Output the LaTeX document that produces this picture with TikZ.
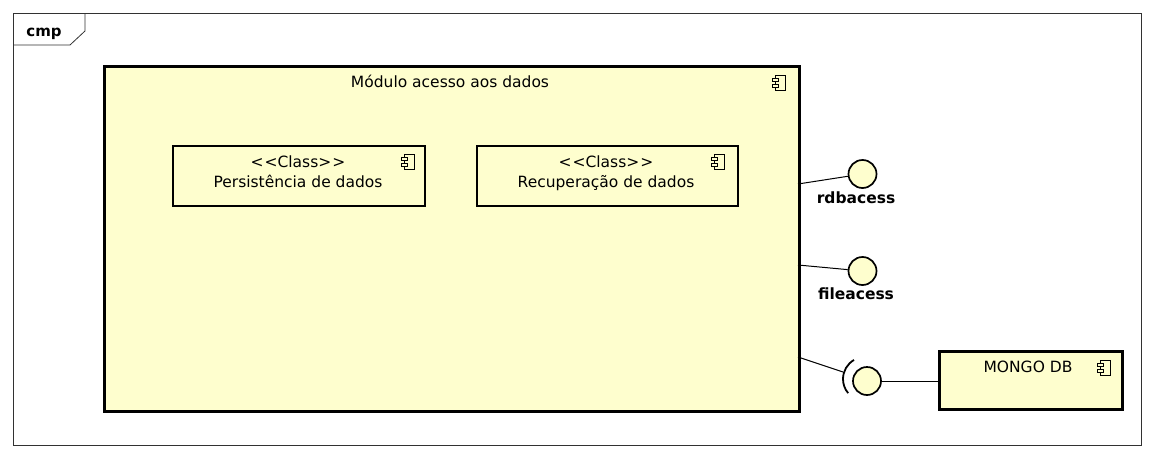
\documentclass[tikz,border=0pt]{standalone}
\usepackage{fontspec}
\setmainfont{DejaVu Sans}
\definecolor{compfill}{RGB}{254,254,206}
\definecolor{framecol}{RGB}{50,50,50}
\begin{document}
\begin{tikzpicture}[x={(1pt,0)},y={(0,-1pt)},
  txt/.style={font=\fontsize{15.5}{20}\selectfont, inner sep=0pt},
  lbl/.style={font=\bfseries\fontsize{15.5}{20}\selectfont, inner sep=0pt},
  comp/.style={draw=black, fill=compfill, line width=2.6pt, inner sep=0pt},
  iface/.style={circle, draw=black, fill=compfill, line width=1.7pt, minimum size=28pt, inner sep=0pt},
  conn/.style={draw=black, line width=1pt},
  compicon/.pic={
    \draw[line width=0.8pt, fill=compfill] (-4,-7.5) rectangle (6,7.5);
    \draw[line width=0.8pt, fill=compfill] (-7,-4.5) rectangle (-1,-1.5);
    \draw[line width=0.8pt, fill=compfill] (-7,1.5) rectangle (-1,4.5);
  }]
\useasboundingbox (0,0) rectangle (1154,458);
\fill[white] (0,0) rectangle (1154,458);
% frame
\node[draw=framecol, line width=0.8pt, minimum width=1128pt, minimum height=432pt, inner sep=0pt, anchor=north west] (frame) at (13,13) {};
\draw[framecol, line width=0.8pt] (13,45) -- (70,45) -- (85,31) -- (85,13);
\node[lbl, font=\bfseries\fontsize{15}{18}\selectfont, anchor=base] (cmp) at (44,36) {cmp};
% main component
\node[comp, minimum width=695pt, minimum height=345pt, anchor=north west] (main) at (103,65) {};
\node[txt, anchor=base] (maint) at (450,87) {Módulo acesso aos dados};
\pic at (779,83) {compicon};
% inner classes
\node[comp, line width=2.2pt, minimum width=252pt, minimum height=60pt, anchor=north west] (pers) at (172,145) {};
\node[txt, anchor=base] (perst1) at (298,167) {<\kern1pt<Class>\kern1pt>};
\node[txt, anchor=base] (perst2) at (298,187) {Persistência de dados};
\pic at (408,162) {compicon};
\node[comp, line width=2.2pt, minimum width=261pt, minimum height=60pt, anchor=north west] (recup) at (476,145) {};
\node[txt, anchor=base] (recupt1) at (606,167) {<\kern1pt<Class>\kern1pt>};
\node[txt, anchor=base] (recupt2) at (606,187) {Recuperação de dados};
\pic at (718,162) {compicon};
% interfaces
\node[iface] (rdb) at (862.5,174) {};
\node[lbl, anchor=base] (rdbl) at (856,203) {rdbacess};
\coordinate (m1) at (798,184);
\draw[conn] (m1) -- (rdb);
\node[iface] (file) at (862.5,271) {};
\node[lbl, anchor=base] (filel) at (856,299) {fileacess};
\coordinate (m2) at (798,265);
\draw[conn] (m2) -- (file);
% required / provided
\node[iface] (req) at (867,381) {};
\coordinate (m3) at (798,357);
\coordinate (sock) at (843,372);
\draw[conn] (m3) -- (sock);
\draw[line width=1.8pt] (865,379) ++(240:22) arc[start angle=120, end angle=220, radius=22pt];
% mongo
\node[comp, minimum width=183pt, minimum height=58pt, anchor=north west] (mongo) at (938,350) {};
\node[txt, anchor=base] (mongot) at (1028,372) {MONGO DB};
\pic at (1104,368) {compicon};
\draw[conn] (req) -- (mongo.west |- req);
\end{tikzpicture}
\end{document}
